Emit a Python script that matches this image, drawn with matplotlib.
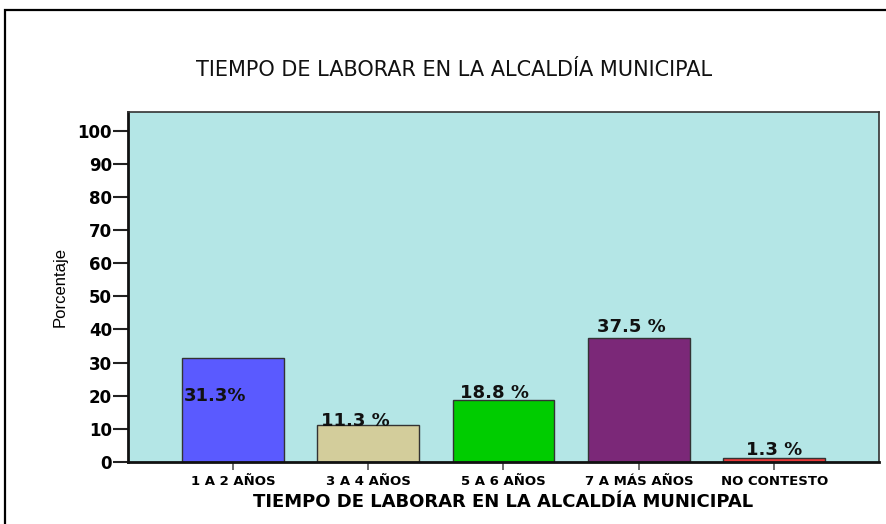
import matplotlib
matplotlib.use("Agg")
import matplotlib.pyplot as plt
from matplotlib.patches import Rectangle

# data
categories = ["1 A 2 AÑOS", "3 A 4 AÑOS", "5 A 6 AÑOS", "7 A MÁS AÑOS", "NO CONTESTO"]
percentages = [31.3, 11.3, 18.8, 37.5, 1.3]
value_labels = ["31.3%", "11.3 %", "18.8 %", "37.5 %", "1.3 %"]
bar_colors = ["#5a5aff", "#d3cd9b", "#00cc00", "#7b2878", "#e83838"]
yticks = [0, 10, 20, 30, 40, 50, 60, 70, 80, 90, 100]

# the original text is a horizontally stretched Arial; DejaVu is the closest wide face
plt.rcParams['font.family'] = ['DejaVu Sans']

fig = plt.figure(figsize=(8.87, 5.24), dpi=100)
ax = fig.add_axes([128 / 887, 1 - 462 / 524, 751 / 887, 350 / 524])

# outer frame (runs off the right and bottom edges)
fig.patches.append(Rectangle((5 / 887, -0.1), 1.2, 1.1 - 10 / 524,
                             transform=fig.transFigure, fill=False,
                             edgecolor='black', linewidth=1.6))

ax.set_facecolor('#b4e6e6')
x = list(range(len(categories)))
ax.bar(x, percentages, width=0.75, color=bar_colors, edgecolor='#333333', linewidth=1.0, zorder=2)

# value labels: (x offset from bar left in px, vertical offset, alignment)
bar_w = 0.75
px = 1 / 135.3
label_pos = [(2, 20 - 31.3, 'center'), (4, -0.3, 'baseline'), (7, 0.5, 'baseline'),
             (9, 1.8, 'baseline'), (23, 0.9, 'baseline')]
for i, (val, lab) in enumerate(zip(percentages, value_labels)):
    dx, dy, va = label_pos[i]
    ax.text(i - bar_w / 2 + dx * px, val + dy, lab, ha='left', va=va,
            fontsize=13, fontweight='bold', color='#111111', zorder=3)

ax.set_xlim(-0.775, 4.775)
ax.set_ylim(0, 105.6)
ax.set_xticks(x)
ax.set_xticklabels(categories, fontsize=9.5, fontweight='bold')
ax.set_yticks(yticks)
ax.set_yticklabels([str(v) for v in yticks], fontsize=12, fontweight='bold')

ax.tick_params(axis='y', length=10.5, width=1.5, color='#222222', pad=1)
ax.tick_params(axis='x', length=5.5, width=1.2, color='#555555', pad=4)

for side in ['left', 'bottom']:
    ax.spines[side].set_linewidth(2)
    ax.spines[side].set_color('#111111')
for side in ['top', 'right']:
    ax.spines[side].set_linewidth(1.2)
    ax.spines[side].set_color('#333333')

ax.set_xlabel("TIEMPO DE LABORAR EN LA ALCALDÍA MUNICIPAL", fontsize=13,
              fontweight='bold', labelpad=3.5)
ax.set_ylabel("Porcentaje", fontsize=12, family=['Liberation Sans'], labelpad=7)

fig.text(454 / 887, 1 - 70 / 524, "TIEMPO DE LABORAR EN LA ALCALDÍA MUNICIPAL",
         ha='center', va='center', fontsize=15, color='#111111')

fig.savefig("out.png", dpi=100)
